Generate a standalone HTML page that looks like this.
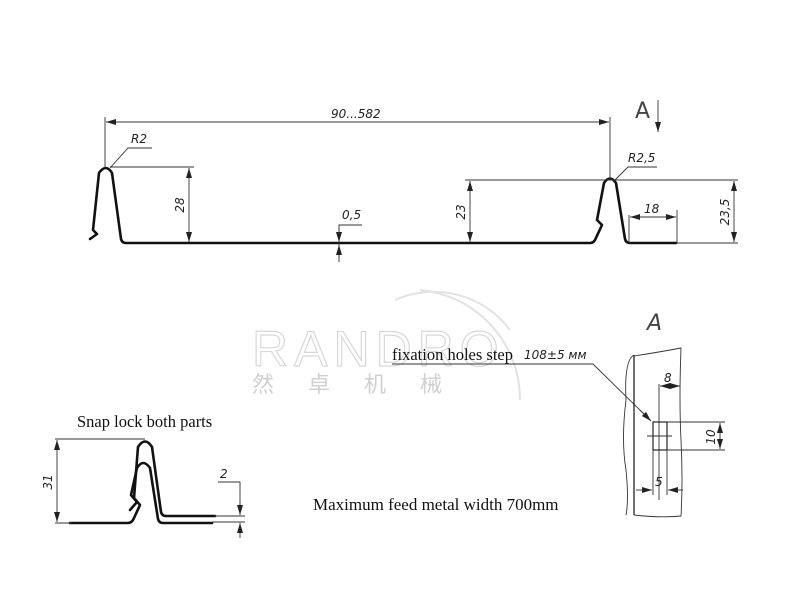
<!DOCTYPE html>
<html><head><meta charset="utf-8"><style>
html,body{margin:0;padding:0;background:#fff;}
svg{display:block;}
.t{font-family:"DejaVu Sans","Liberation Sans",sans-serif;font-style:italic;font-size:12px;fill:#222;}
.s{font-family:"Liberation Serif",serif;font-size:15px;fill:#111;}
</style></head><body>
<svg width="800" height="600" viewBox="0 0 800 600" xmlns="http://www.w3.org/2000/svg">
<defs>
<marker id="a" viewBox="0 0 10 6" refX="10" refY="3" markerWidth="10" markerHeight="6" orient="auto-start-reverse" markerUnits="userSpaceOnUse"><path d="M0,0 L10,3 L0,6 z" fill="#222"/></marker>
</defs>
<g fill="none" stroke="#e2e2e2" stroke-width="2">
<path d="M395,300 A95,95 0 0 1 510,330"/>
<path d="M420,290 A110,110 0 0 1 520,400"/>
</g>
<text x="252" y="366" font-family="Liberation Sans,sans-serif" font-size="50" fill="none" stroke="#d8d8d8" stroke-width="1.2" letter-spacing="6">RANDRO</text>
<text x="252" y="392" font-family="Liberation Sans,'Noto Sans CJK SC',sans-serif" font-size="22" fill="#d0d0d0" letter-spacing="34">然卓机械</text>

<g fill="none" stroke="#111" stroke-width="2.6" stroke-linejoin="round" stroke-linecap="round">
<path d="M90,239 L97,234 L93,230 L99,173 Q106,163 112,173 L121,239 Q122,243 126,243 L590,243 Q593,243 595,240 L602,225 L597,220 L604,183 Q610,174 616,183 L625,239 Q626,243 630,243 L676,243"/>
<path d="M70,523 L128,523 Q132,523 134,518 L140,505 L134,498 L138,447 Q145,436 152,447 L161,512 Q162,516 166,516 L215,516"/>
<path d="M130,510 L137,502 L131,495 L137,468 Q143,458 150,468 L158,519 Q159,523 163,523 L212,523"/>
</g>

<g fill="none" stroke="#333" stroke-width="0.9">
<line x1="105" y1="117" x2="105" y2="168"/>
<line x1="610" y1="117" x2="610" y2="180"/>
<line x1="106" y1="122" x2="609" y2="122" marker-start="url(#a)" marker-end="url(#a)"/>
<polyline points="110,168 128,148 152,148"/>
<line x1="110" y1="167" x2="194" y2="167"/>
<line x1="189" y1="168" x2="189" y2="242" marker-start="url(#a)" marker-end="url(#a)"/>
<polyline points="362,225 339,225 339,262"/>
<line x1="339" y1="228" x2="339" y2="242" marker-end="url(#a)"/>
<line x1="339" y1="258" x2="339" y2="245" marker-end="url(#a)"/>
<line x1="465" y1="180" x2="738" y2="180"/>
<line x1="470" y1="181" x2="470" y2="242" marker-start="url(#a)" marker-end="url(#a)"/>
<line x1="676" y1="243" x2="738" y2="243"/>
<line x1="734" y1="181" x2="734" y2="242" marker-start="url(#a)" marker-end="url(#a)"/>
<line x1="629" y1="215" x2="629" y2="243"/>
<line x1="677" y1="210" x2="677" y2="243"/>
<line x1="630" y1="217" x2="676" y2="217" marker-start="url(#a)" marker-end="url(#a)"/>
<polyline points="613,182 628,167 657,167"/>
<line x1="658" y1="100" x2="658" y2="132" marker-end="url(#a)"/>
<polyline points="392,364 593,364 650,420" />
<line x1="640" y1="410" x2="651" y2="421" marker-end="url(#a)"/>
<line x1="634" y1="355" x2="634" y2="515" stroke="#111" stroke-width="1.2"/>
<path d="M634,355 Q624,360 626,400 Q621,440 626,470 Q629,500 626,515" />
<path d="M634,356 Q660,352 681,348 Q679,400 681,440 Q683,480 681,516 Q660,518 634,515"/>
<rect x="653" y="422" width="14" height="28" stroke="#111" stroke-width="1.1"/>
<line x1="659" y1="384" x2="659" y2="500"/>
<line x1="647" y1="436" x2="672" y2="436"/>
<line x1="660" y1="386" x2="680" y2="386" marker-start="url(#a)" marker-end="url(#a)"/>
<line x1="667" y1="422" x2="725" y2="422"/>
<line x1="667" y1="450" x2="725" y2="450"/>
<line x1="720" y1="423" x2="720" y2="449" marker-start="url(#a)" marker-end="url(#a)"/>
<line x1="653" y1="450" x2="653" y2="495"/>
<line x1="667" y1="450" x2="667" y2="495"/>
<line x1="636" y1="490" x2="652" y2="490" marker-end="url(#a)"/>
<line x1="683" y1="490" x2="668" y2="490" marker-end="url(#a)"/>
<line x1="55" y1="439" x2="145" y2="439"/>
<line x1="55" y1="523" x2="72" y2="523"/>
<line x1="57" y1="440" x2="57" y2="522" marker-start="url(#a)" marker-end="url(#a)"/>
<line x1="214" y1="516" x2="245" y2="516"/>
<line x1="212" y1="522" x2="245" y2="522"/>
<polyline points="218,482 240,482 240,515"/>
<line x1="240" y1="500" x2="240" y2="515" marker-end="url(#a)"/>
<line x1="240" y1="538" x2="240" y2="523" marker-end="url(#a)"/>
</g>

<text class="t" x="331" y="118">90...582</text>
<text class="t" x="131" y="143">R2</text>
<text class="t" x="342" y="219">0,5</text>
<text class="t" x="628" y="162">R2,5</text>
<text class="t" x="644" y="213">18</text>
<text class="t" transform="translate(184,205) rotate(-90)" text-anchor="middle">28</text>
<text class="t" transform="translate(465,212) rotate(-90)" text-anchor="middle">23</text>
<text class="t" transform="translate(729,212) rotate(-90)" text-anchor="middle">23,5</text>
<text class="t" x="635" y="118" style="font-size:22px;font-style:normal;fill:#444">A</text>
<text class="t" x="647" y="330" style="font-size:22px;fill:#444">A</text>
<text class="t" x="664" y="382">8</text>
<text class="t" transform="translate(715,437) rotate(-90)" text-anchor="middle">10</text>
<text class="t" x="655" y="486">5</text>
<text class="t" transform="translate(52,482) rotate(-90)" text-anchor="middle">31</text>
<text class="t" x="220" y="478">2</text>
<text class="s" x="392" y="360" style="font-size:16.5px">fixation holes step</text>
<text class="t" x="524" y="359" style="font-size:12px">108±5 мм</text>
<text class="s" x="77" y="427" style="font-size:16.5px">Snap lock both parts</text>
<text class="s" x="313" y="510" style="font-size:17px">Maximum feed metal width 700mm</text>
</svg>
</body></html>
